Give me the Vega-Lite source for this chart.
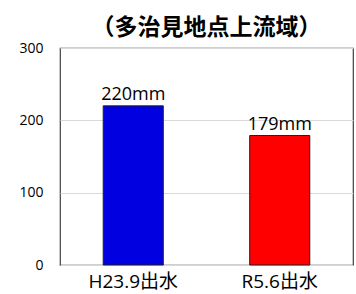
{
  "$schema": "https://vega.github.io/schema/vega-lite/v6.json",
  "width": 293,
  "height": 217,
  "autosize": {"type": "none"},
  "padding": {"left": 60, "top": 48, "right": 3, "bottom": 29},
  "background": "white",
  "title": {
    "text": "（多治見地点上流域）",
    "font": "Noto Sans CJK JP",
    "fontSize": 23,
    "fontWeight": "bold",
    "color": "#000000",
    "anchor": "middle",
    "offset": 1
  },
  "config": {
    "view": {"stroke": "#404040", "strokeWidth": 1.2},
    "font": "Open Sans, Noto Sans CJK JP"
  },
  "data": {
    "values": [
      {"event": "H23.9出水", "rain": 220, "label": "220mm"},
      {"event": "R5.6出水", "rain": 179, "label": "179mm"}
    ]
  },
  "encoding": {
    "x": {
      "field": "event",
      "type": "nominal",
      "sort": null,
      "scale": {"paddingInner": 0.59, "paddingOuter": 0.295},
      "axis": {
        "title": null,
        "labelAngle": 0,
        "labelFontSize": 19,
        "labelColor": "#000000",
        "labelFont": "Open Sans, Noto Sans CJK JP",
        "ticks": false,
        "domain": false,
        "labelPadding": 7
      }
    },
    "y": {
      "field": "rain",
      "type": "quantitative",
      "scale": {"domain": [0, 300]},
      "axis": {
        "title": null,
        "values": [0, 100, 200, 300],
        "labelFontSize": 14,
        "labelColor": "#000000",
        "labelFont": "Open Sans",
        "ticks": false,
        "domain": false,
        "labelPadding": 17,
        "gridColor": "#d9d9d9",
        "gridWidth": 1
      }
    }
  },
  "layer": [
    {
      "mark": {"type": "bar", "stroke": "#202020", "strokeWidth": 1},
      "encoding": {
        "color": {
          "field": "event",
          "type": "nominal",
          "scale": {"domain": ["H23.9出水", "R5.6出水"], "range": ["#0000e0", "#ff0000"]},
          "legend": null
        }
      }
    },
    {
      "mark": {"type": "text", "baseline": "alphabetic", "dy": -6, "fontSize": 18, "color": "#000000", "font": "Open Sans"},
      "encoding": {"text": {"field": "label"}}
    }
  ]
}
